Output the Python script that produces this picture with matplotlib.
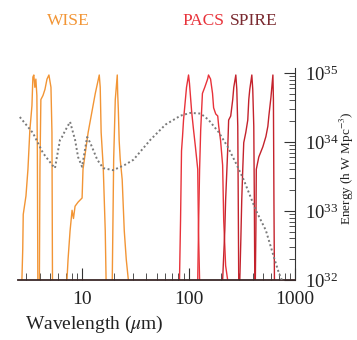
import numpy as np
import matplotlib
matplotlib.use("Agg")
import matplotlib.pyplot as plt

plt.rcParams['font.family'] = ['Liberation Serif', 'DejaVu Serif']
plt.rcParams['mathtext.fontset'] = 'stix'

# filter transmission curves (wavelength in micron, relative transmission)
w1_wl = [2.72, 2.77, 2.80, 2.97, 3.10, 3.23, 3.38, 3.45, 3.52, 3.60, 3.68, 3.76, 3.80, 3.84]
w1_tr = [0.0, 0.15, 0.32, 0.41, 0.54, 0.73, 0.85, 0.99, 1.0, 0.94, 0.98, 0.90, 0.63, 0.0]
w2_wl = [3.97, 4.02, 4.10, 4.29, 4.48, 4.68, 4.88, 5.10, 5.21, 5.27]
w2_tr = [0.0, 0.55, 0.88, 0.90, 0.93, 0.98, 1.0, 0.94, 0.72, 0.0]
w3_wl = [7.21, 7.38, 7.71, 8.05, 8.3, 8.59, 9.17, 10.0, 10.2, 11.4, 13.3, 14.5, 14.8, 15.1, 15.8, 16.5, 16.8]
w3_tr = [0.0, 0.10, 0.24, 0.34, 0.30, 0.36, 0.38, 0.40, 0.54, 0.72, 0.91, 1.0, 0.94, 0.72, 0.55, 0.24, 0.0]
w4_wl = [19.2, 19.6, 19.8, 20.5, 21.4, 21.6, 21.9, 22.3, 22.8, 23.8, 24.9, 26.0, 27.2]
w4_tr = [0.0, 0.39, 0.59, 0.88, 1.0, 0.91, 0.83, 0.68, 0.59, 0.49, 0.24, 0.10, 0.0]

p100_wl = [82.2, 84.1, 85.9, 87.8, 89.7, 95.7, 100, 102, 107, 109, 111, 116, 122, 124, 127]
p100_tr = [0.0, 0.29, 0.63, 0.70, 0.78, 0.94, 1.0, 0.96, 0.82, 0.78, 0.74, 0.65, 0.54, 0.24, 0.0]
p160_wl = [122, 124, 127, 130, 135, 142, 151, 154, 161, 168, 172, 180, 188, 192, 200, 209, 214, 223, 233]
p160_tr = [0.0, 0.24, 0.54, 0.73, 0.91, 0.94, 0.98, 1.0, 0.98, 0.91, 0.84, 0.81, 0.80, 0.75, 0.68, 0.56, 0.29, 0.07, 0.0]

s250_wl = [209, 219, 223, 233, 238, 249, 260, 266, 278, 284, 290, 293, 296]
s250_tr = [0.0, 0.24, 0.39, 0.63, 0.78, 0.80, 0.88, 0.94, 1.0, 0.93, 0.75, 0.39, 0.0]
s350_wl = [303, 310, 316, 323, 330, 345, 360, 368, 376, 393, 401, 410, 415, 419]
s350_tr = [0.0, 0.20, 0.39, 0.54, 0.67, 0.72, 0.78, 0.88, 0.93, 1.0, 0.93, 0.75, 0.39, 0.0]
s500_wl = [424, 429, 433, 457, 499, 533, 556, 568, 594, 620, 627, 634, 641]
s500_tr = [0.0, 0.24, 0.54, 0.60, 0.65, 0.70, 0.75, 0.80, 0.89, 1.0, 0.88, 0.39, 0.0]

# energy density spectrum
sed_wl = [2.60, 3.45, 4.29, 5.21, 5.56, 6.20, 6.47, 6.92, 7.71, 8.59, 9.17, 10.0, 11.15, 11.9,
          13.9, 15.8, 19.6, 25.4, 30.3, 43.8, 60.7, 84.1, 104, 130, 154, 192, 233, 277,
          330, 429, 532, 634, 706, 753]
sed_log = [34.36, 34.13, 33.84, 33.67, 33.62, 34.03, 34.07, 34.16, 34.29, 34.03, 33.78, 33.64,
           34.07, 33.99, 33.74, 33.62, 33.59, 33.67, 33.74, 34.03, 34.25, 34.38, 34.42, 34.41,
           34.32, 34.14, 33.93, 33.70, 33.45, 33.01, 32.72, 32.33, 32.10, 32.0]

xticks = [10, 100, 1000]
xticklabels = ['10', '100', '1000']

orange = '#f29535'
pacs_red = '#e8323a'
spire_red = '#c4222c'

fig = plt.figure(figsize=(3.57, 3.40), dpi=100)
ax = fig.add_axes([18/357, 1-280/340, 277/357, 212/340])

ax.set_xscale('log')
ax.set_yscale('log')
ax.set_xlim(2.5, 1000)
ax.set_ylim(1e32, 10**35.07)

ax.plot(sed_wl, 10**np.array(sed_log), color='#7a7a7a', lw=1.4, ls=(0, (1, 1.3)), zorder=3)

# filters in axes-fraction height, peak just under the top
tr = ax.get_xaxis_transform()
peak = 205/212
for wl, t in [(w1_wl, w1_tr), (w2_wl, w2_tr), (w3_wl, w3_tr), (w4_wl, w4_tr)]:
    ax.plot(wl, np.array(t)*peak, color=orange, lw=1.0, transform=tr, zorder=2)
for wl, t in [(p100_wl, p100_tr), (p160_wl, p160_tr)]:
    ax.plot(wl, np.array(t)*peak, color=pacs_red, lw=1.0, transform=tr, zorder=2)
for wl, t in [(s250_wl, s250_tr), (s350_wl, s350_tr), (s500_wl, s500_tr)]:
    ax.plot(wl, np.array(t)*peak, color=spire_red, lw=1.0, transform=tr, zorder=2)

ax.spines['left'].set_visible(False)
ax.spines['top'].set_visible(False)
ax.spines['bottom'].set_color('#3a2828')
ax.spines['bottom'].set_linewidth(1.3)
ax.spines['right'].set_color('#333333')

ax.yaxis.tick_right()
ax.tick_params(axis='both', which='both', direction='in', colors='#333333', labelcolor='#222222')
ax.tick_params(axis='x', which='major', length=9, pad=8, labelsize=14)
ax.tick_params(axis='x', which='minor', length=5)
ax.tick_params(axis='y', which='major', length=8, pad=7, labelsize=13.5)
ax.tick_params(axis='y', which='minor', length=4)
ax.set_xticks(xticks, xticklabels)

ax.set_xlabel('Wavelength ($\\mu$m)', fontsize=14, color='#222222')
ax.xaxis.set_label_coords((94-18)/277, -0.16)

fig.text(68/357, 1-21/340, 'WISE', color=orange, fontsize=12.5, ha='center', va='center')
fig.text(203/357, 1-21/340, 'PACS', color=pacs_red, fontsize=12.5, ha='center', va='center')
fig.text(254/357, 1-21/340, 'SPIRE', color='#7a2a30', fontsize=12.5, ha='center', va='center')
fig.text(356/357, 1-168/340, 'Energy (h W Mpc$^{-3}$)', color='#222222', fontsize=9.5,
         rotation=90, ha='right', va='center')

fig.savefig('out.png', dpi=100)
